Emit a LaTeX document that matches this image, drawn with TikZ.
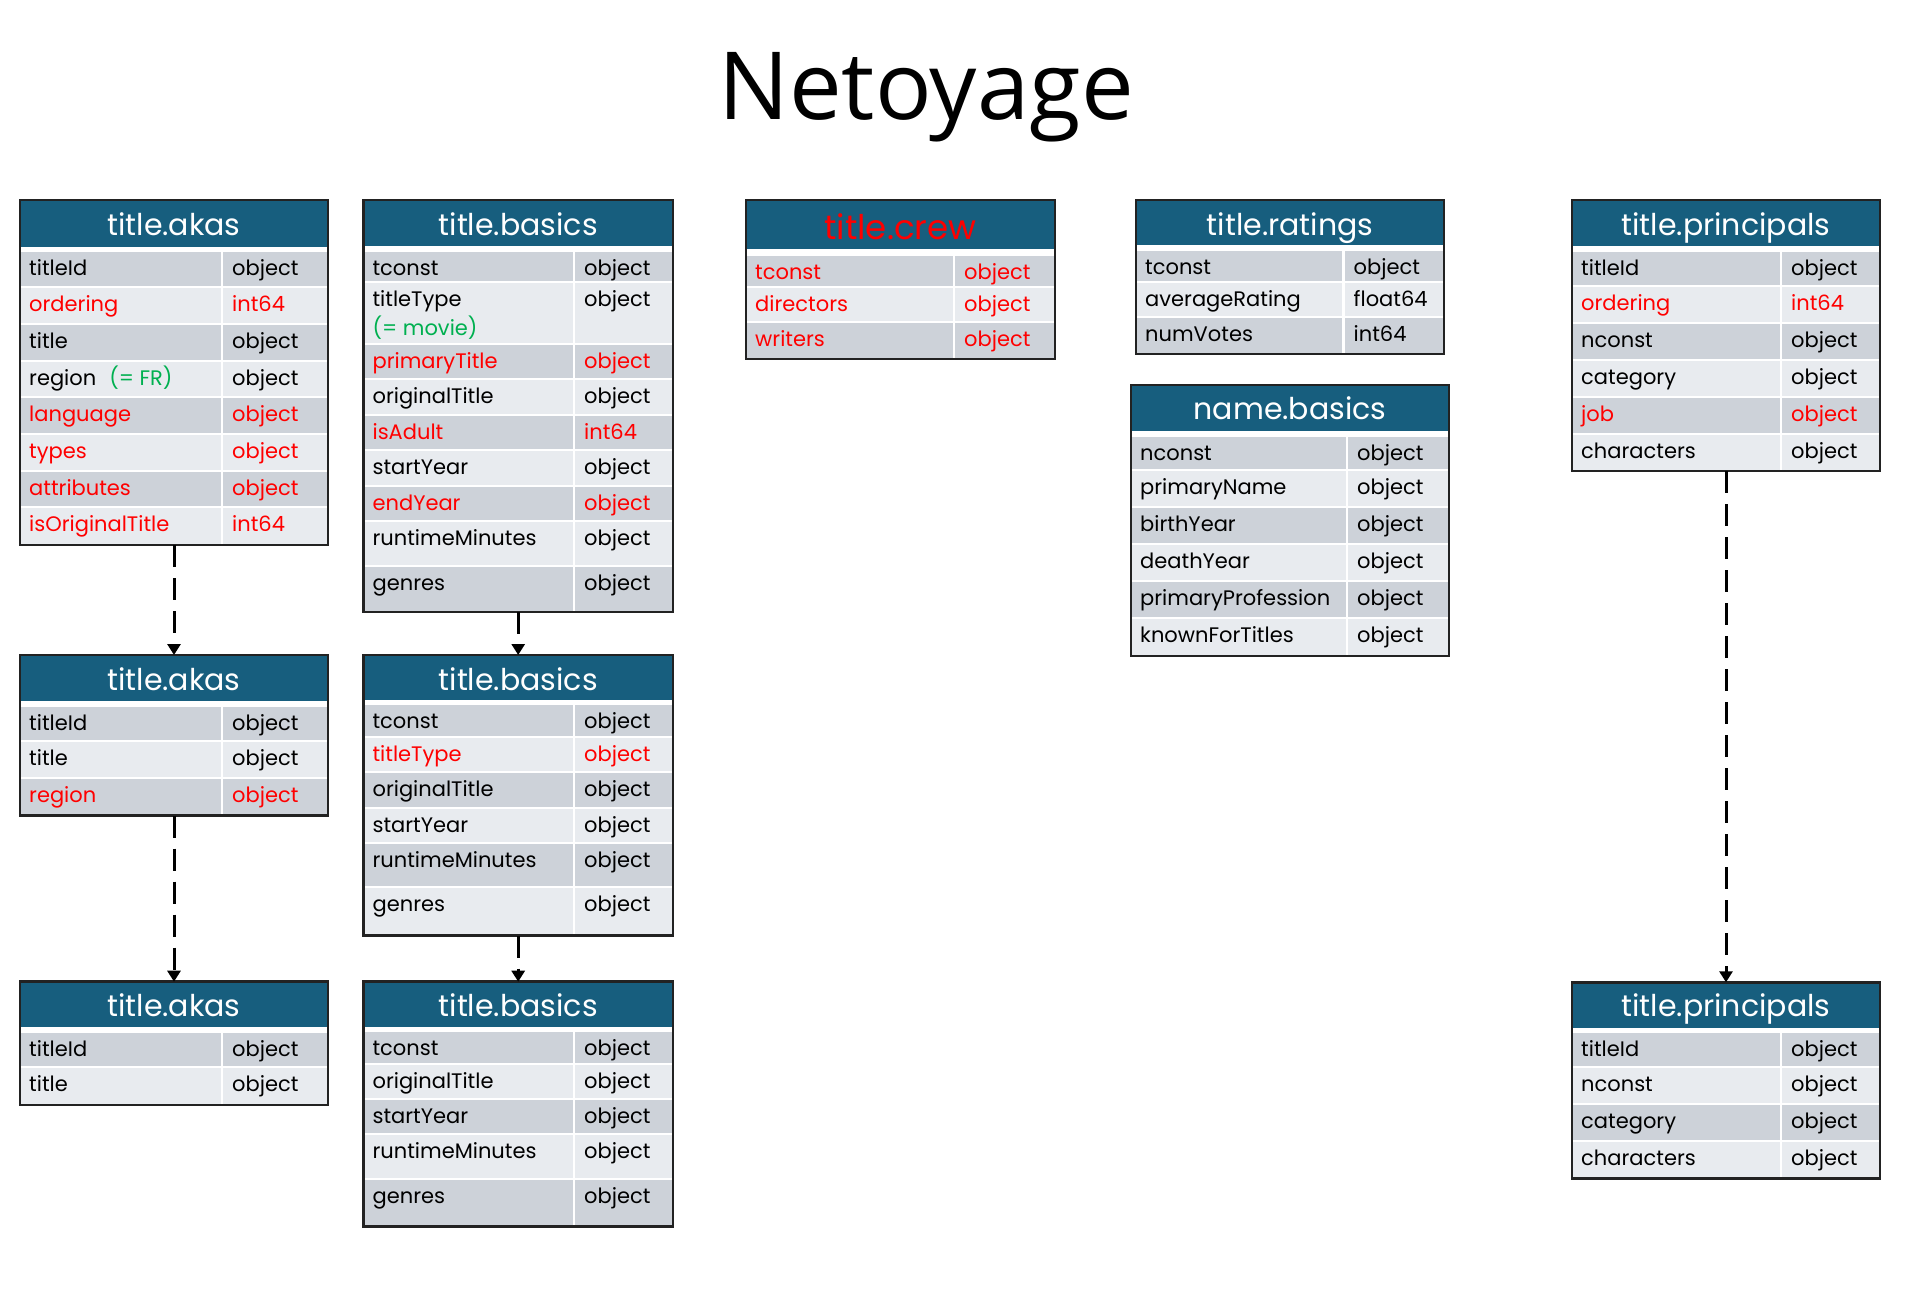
\documentclass[tikz,border=0pt]{standalone}
\usepackage{fontspec}
\setmainfont{Poppins}
\newfontfamily\titlefont{Open Sans}
\usetikzlibrary{arrows.meta}
\definecolor{hdrblue}{HTML}{175E7E}
\definecolor{rowdark}{HTML}{CDD2D9}
\definecolor{rowlight}{HTML}{E8EBEF}
\definecolor{fgreen}{HTML}{00B050}
\definecolor{fred}{HTML}{FF0000}
\definecolor{bordercol}{HTML}{222222}
\newcount\tncount
\newcommand\nextname{\global\advance\tncount by 1\relax}
% header: x1 x2 top hbottom title colour baseline-offset fontsize
\newcommand\thead[8]{%
  \fill[hdrblue] (#1,#3) rectangle (#2,#4);
  \nextname
  \node[hdrtext, text=#6, font=\fontsize{#8}{#8}\selectfont] (h\the\tncount) at ({(#1+#2)/2},{#3+#7}) {#5};
}
% row: x1 split x2 rtop rbottom fill textcolour field type
\newcommand\trow[9]{%
  \fill[#6] (#1,#4) rectangle ({#2-1.3},{#5-2});
  \fill[#6] ({#2+1.3},#4) rectangle (#3,{#5-2});
  \nextname
  \node[fieldtext, text=#7] (f\the\tncount) at ({#1+9},{#4+23.5}) {#8};
  \node[fieldtext, text=#7] (y\the\tncount) at ({#2+10},{#4+23.5}) {#9};
}
% border: name x1 x2 top bottom
\newcommand\tbox[5]{%
  \node[tablebox, anchor=north west, minimum width={#3pt-#2pt}, minimum height={#5pt-#4pt}] (#1) at (#2,#4) {};
}
\begin{document}
\begin{tikzpicture}[x=1pt,y=-1pt,
  fieldtext/.style={anchor=base west, inner sep=0pt, font=\fontsize{21}{25}\selectfont},
  hdrtext/.style={anchor=base, inner sep=0pt},
  tablebox/.style={draw=bordercol, line width=2.5pt, inner sep=0pt, outer sep=0pt},
  dasharrow/.style={draw=black, line width=3pt, dash pattern=on 22pt off 11pt, -{Triangle[width=13pt,length=11pt]}}]
\useasboundingbox (0,0) rectangle (1917,1315);
\fill[white] (0,0) rectangle (1917,1315);
\node[font=\titlefont\fontsize{94}{110}\selectfont, anchor=base, inner sep=0pt] (title) at (926,119) {Netoyage};

% ---------- title.akas (1)
\thead{20}{328}{200}{246.5}{title.akas}{white}{35}{30}
\trow{20}{222}{328}{251.5}{288.2}{rowdark}{black}{titleId}{object}
\trow{20}{222}{328}{288.2}{324.9}{rowlight}{fred}{ordering}{int64}
\trow{20}{222}{328}{324.9}{361.6}{rowdark}{black}{title}{object}
\trow{20}{222}{328}{361.6}{398.3}{rowlight}{black}{region\hspace{13pt}\textcolor{fgreen}{(= FR)}}{object}
\trow{20}{222}{328}{398.3}{435}{rowdark}{fred}{language}{object}
\trow{20}{222}{328}{435}{471.7}{rowlight}{fred}{types}{object}
\trow{20}{222}{328}{471.7}{508.4}{rowdark}{fred}{attributes}{object}
\trow{20}{222}{328}{508.4}{547}{rowlight}{fred}{isOriginalTitle}{int64}
\tbox{akasA}{20}{328}{200}{545}

% ---------- title.basics (1)
\thead{363.4}{673}{200}{246}{title.basics}{white}{35}{30}
\trow{363.4}{574}{673}{251.5}{283}{rowdark}{black}{tconst}{object}
\trow{363.4}{574}{673}{283}{345}{rowlight}{black}{titleType}{object}
\node[fieldtext, text=fgreen] (movie) at (372.4,335) {(= movie)};
\trow{363.4}{574}{673}{345}{380}{rowdark}{fred}{primaryTitle}{object}
\trow{363.4}{574}{673}{380}{416}{rowlight}{black}{originalTitle}{object}
\trow{363.4}{574}{673}{416}{450.5}{rowdark}{fred}{isAdult}{int64}
\trow{363.4}{574}{673}{450.5}{486.5}{rowlight}{black}{startYear}{object}
\trow{363.4}{574}{673}{486.5}{521.5}{rowdark}{fred}{endYear}{object}
\trow{363.4}{574}{673}{521.5}{566.5}{rowlight}{black}{runtimeMinutes}{object}
\trow{363.4}{574}{673}{566.5}{614}{rowdark}{black}{genres}{object}
\tbox{basicsA}{363.4}{673}{200}{612}

% ---------- title.crew
\thead{746}{1055}{200}{249}{title.crew}{fred}{39}{34}
\trow{746}{954}{1055}{256}{288}{rowdark}{fred}{tconst}{object}
\trow{746}{954}{1055}{288}{323}{rowlight}{fred}{directors}{object}
\trow{746}{954}{1055}{323}{361}{rowdark}{fred}{writers}{object}
\tbox{crew}{746}{1055}{200}{359}

% ---------- title.ratings
\thead{1136}{1444}{200}{245}{title.ratings}{white}{35}{30}
\trow{1136}{1343.5}{1444}{251}{283}{rowdark}{black}{tconst}{object}
\trow{1136}{1343.5}{1444}{283}{318}{rowlight}{black}{averageRating}{float64}
\trow{1136}{1343.5}{1444}{318}{356}{rowdark}{black}{numVotes}{int64}
\tbox{ratings}{1136}{1444}{200}{354}

% ---------- name.basics
\thead{1131}{1449}{385}{430.7}{name.basics}{white}{34}{30}
\trow{1131}{1347}{1449}{436.7}{470.5}{rowdark}{black}{nconst}{object}
\trow{1131}{1347}{1449}{470.5}{508}{rowlight}{black}{primaryName}{object}
\trow{1131}{1347}{1449}{508}{544.5}{rowdark}{black}{birthYear}{object}
\trow{1131}{1347}{1449}{544.5}{582}{rowlight}{black}{deathYear}{object}
\trow{1131}{1347}{1449}{582}{619}{rowdark}{black}{primaryProfession}{object}
\trow{1131}{1347}{1449}{619}{658}{rowlight}{black}{knownForTitles}{object}
\tbox{names}{1131}{1449}{385}{656}

% ---------- title.principals (1)
\thead{1572}{1880}{200}{246}{title.principals}{white}{35}{30}
\trow{1572}{1781}{1880}{251.7}{286.5}{rowdark}{black}{titleId}{object}
\trow{1572}{1781}{1880}{286.5}{323.5}{rowlight}{fred}{ordering}{int64}
\trow{1572}{1781}{1880}{323.5}{360.5}{rowdark}{black}{nconst}{object}
\trow{1572}{1781}{1880}{360.5}{397.5}{rowlight}{black}{category}{object}
\trow{1572}{1781}{1880}{397.5}{434.5}{rowdark}{fred}{job}{object}
\trow{1572}{1781}{1880}{434.5}{473}{rowlight}{black}{characters}{object}
\tbox{princA}{1572}{1880}{200}{471}

% ---------- title.akas (2)
\thead{20}{328}{655}{701}{title.akas}{white}{35}{30}
\trow{20}{222}{328}{706.5}{741.5}{rowdark}{black}{titleId}{object}
\trow{20}{222}{328}{741.5}{778.5}{rowlight}{black}{title}{object}
\trow{20}{222}{328}{778.5}{817.5}{rowdark}{fred}{region}{object}
\tbox{akasB}{20}{328}{655}{815.5}

% ---------- title.basics (2)
\thead{363.4}{673}{655}{699.5}{title.basics}{white}{35}{30}
\trow{363.4}{574}{673}{705}{738}{rowdark}{black}{tconst}{object}
\trow{363.4}{574}{673}{738}{773}{rowlight}{fred}{titleType}{object}
\trow{363.4}{574}{673}{773}{809}{rowdark}{black}{originalTitle}{object}
\trow{363.4}{574}{673}{809}{844}{rowlight}{black}{startYear}{object}
\trow{363.4}{574}{673}{844}{887.5}{rowdark}{black}{runtimeMinutes}{object}
\trow{363.4}{574}{673}{887.5}{937.5}{rowlight}{black}{genres}{object}
\tbox{basicsB}{363.4}{673}{655}{935.5}

% ---------- title.akas (3)
\thead{20}{328}{981.7}{1027}{title.akas}{white}{35}{30}
\trow{20}{222}{328}{1033}{1068}{rowdark}{black}{titleId}{object}
\trow{20}{222}{328}{1068}{1107}{rowlight}{black}{title}{object}
\tbox{akasC}{20}{328}{981.7}{1105}

% ---------- title.basics (3)
\thead{363.4}{673}{981.7}{1026.7}{title.basics}{white}{35}{30}
\trow{363.4}{574}{673}{1032}{1064.5}{rowdark}{black}{tconst}{object}
\trow{363.4}{574}{673}{1064.5}{1100}{rowlight}{black}{originalTitle}{object}
\trow{363.4}{574}{673}{1100}{1135}{rowdark}{black}{startYear}{object}
\trow{363.4}{574}{673}{1135}{1180}{rowlight}{black}{runtimeMinutes}{object}
\trow{363.4}{574}{673}{1180}{1228.5}{rowdark}{black}{genres}{object}
\tbox{basicsC}{363.4}{673}{981.7}{1226.5}

% ---------- title.principals (2)
\thead{1572}{1880}{982.3}{1028}{title.principals}{white}{34}{30}
\trow{1572}{1781}{1880}{1033}{1068}{rowdark}{black}{titleId}{object}
\trow{1572}{1781}{1880}{1068}{1105}{rowlight}{black}{nconst}{object}
\trow{1572}{1781}{1880}{1105}{1141.7}{rowdark}{black}{category}{object}
\trow{1572}{1781}{1880}{1141.7}{1180.7}{rowlight}{black}{characters}{object}
\tbox{princB}{1572}{1880}{982.3}{1178.7}

% ---------- connectors
\draw[dasharrow] (akasA.south) -- (akasB.north);
\draw[dasharrow] (akasB.south) -- (akasC.north);
\draw[dasharrow] (basicsA.south) -- (basicsB.north);
\draw[dasharrow] (basicsB.south) -- (basicsC.north);
\draw[dasharrow] (princA.south) -- (princB.north);
\end{tikzpicture}
\end{document}
